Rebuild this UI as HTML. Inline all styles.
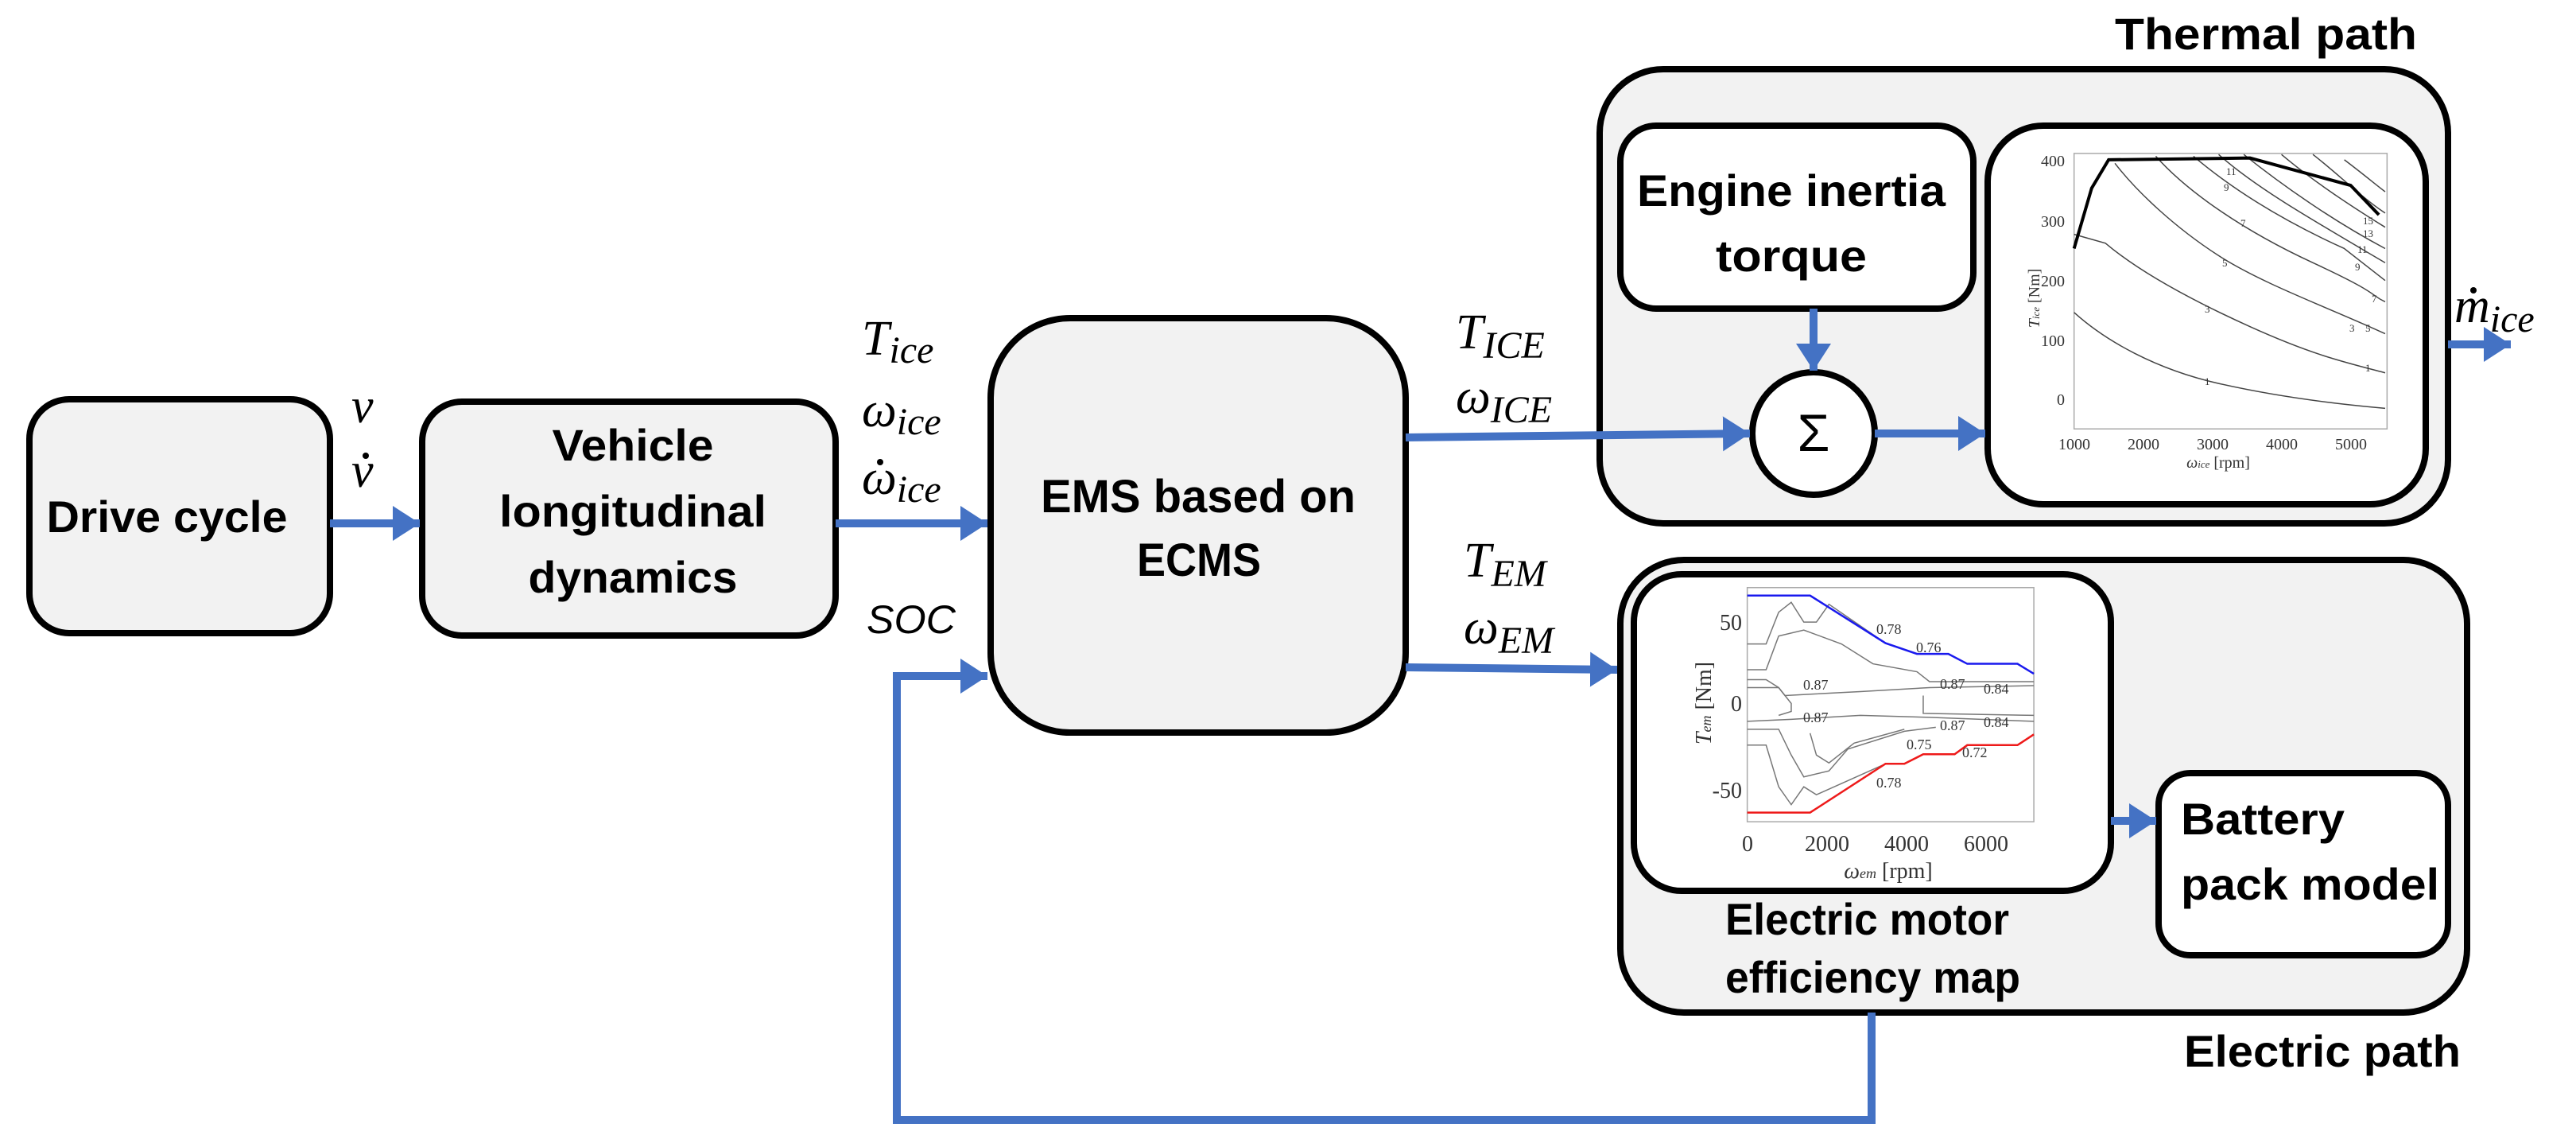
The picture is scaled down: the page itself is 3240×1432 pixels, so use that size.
<!DOCTYPE html>
<html><head><meta charset="utf-8"><style>
html,body{margin:0;padding:0;background:#fff;}
svg{display:block;}
.b{font-family:"Liberation Sans",sans-serif;font-weight:bold;fill:#000;}
.m{font-family:"Liberation Serif",serif;font-style:italic;fill:#000;}
.t{font-family:"Liberation Serif",serif;fill:#333;}
</style></head><body>
<svg width="3240" height="1432" viewBox="0 0 3240 1432" xmlns="http://www.w3.org/2000/svg">
<defs>
<marker id="ah" markerWidth="4" markerHeight="4.4" refX="3.4" refY="2.2" orient="auto" markerUnits="strokeWidth">
<path d="M0,0 L3.4,2.2 L0,4.4 Z" fill="#4472c4"/></marker>
</defs>
<rect x="37" y="502" width="378" height="294" rx="50" fill="#f2f2f2" stroke="#000" stroke-width="8"/>
<rect x="531" y="505" width="520" height="294" rx="50" fill="#f2f2f2" stroke="#000" stroke-width="8"/>
<rect x="1246" y="400" width="522" height="521" rx="100" fill="#f2f2f2" stroke="#000" stroke-width="8"/>
<rect x="2012" y="87" width="1067" height="571" rx="80" fill="#f2f2f2" stroke="#000" stroke-width="8"/>
<rect x="2038" y="158" width="444" height="230" rx="45" fill="#fff" stroke="#000" stroke-width="8"/>
<rect x="2500" y="158" width="551" height="476" rx="70" fill="#fff" stroke="#000" stroke-width="8"/>
<circle cx="2281" cy="545" r="77" fill="#fff" stroke="#000" stroke-width="8"/>
<rect x="2038" y="704" width="1065" height="569" rx="80" fill="#f2f2f2" stroke="#000" stroke-width="8"/>
<rect x="2055" y="722" width="600" height="398" rx="60" fill="#fff" stroke="#000" stroke-width="8"/>
<rect x="2715" y="972" width="364" height="229" rx="40" fill="#fff" stroke="#000" stroke-width="8"/>

<g stroke="#4472c4" stroke-width="10" fill="none">
<line x1="415" y1="658" x2="528" y2="658" marker-end="url(#ah)"/>
<line x1="1051" y1="658" x2="1242" y2="658" marker-end="url(#ah)"/>
<polyline points="2354,1273 2354,1408 1128,1408 1128,850 1242,850" marker-end="url(#ah)"/>
<line x1="1768" y1="550" x2="2201" y2="545" marker-end="url(#ah)"/>
<line x1="1768" y1="839" x2="2034" y2="842" marker-end="url(#ah)"/>
<line x1="2281" y1="388" x2="2281" y2="466" marker-end="url(#ah)"/>
<line x1="2358" y1="545" x2="2497" y2="545" marker-end="url(#ah)"/>
<line x1="3079" y1="433" x2="3158" y2="433" marker-end="url(#ah)"/>
<line x1="2655" y1="1032" x2="2712" y2="1032" marker-end="url(#ah)"/>
</g>

<g transform="translate(2000,0) scale(0.7905,0.4464)" fill="none">
<rect x="770" y="432" width="498" height="776" stroke="#aaa" stroke-width="1.5" vector-effect="non-scaling-stroke"/>
<g stroke="#444" stroke-width="1.5">
<path vector-effect="non-scaling-stroke" d="M770,880 C820,960 900,1040 1000,1080 S1200,1140 1265,1150"/>
<path vector-effect="non-scaling-stroke" d="M770,660 L820,685 C870,760 950,840 1050,920 S1200,1020 1265,1050"/>
<path vector-effect="non-scaling-stroke" d="M835,460 C870,540 930,640 1000,720 S1180,870 1265,940"/>
<path vector-effect="non-scaling-stroke" d="M900,440 C950,540 1040,650 1150,740 S1240,830 1265,850"/>
<path vector-effect="non-scaling-stroke" d="M960,440 C1020,530 1100,620 1200,700 L1265,790"/>
<path vector-effect="non-scaling-stroke" d="M1000,435 C1060,530 1150,620 1265,740"/>
<path vector-effect="non-scaling-stroke" d="M1040,435 C1100,520 1180,620 1265,700"/>
<path vector-effect="non-scaling-stroke" d="M1100,435 C1150,510 1210,580 1265,640"/>
<path vector-effect="non-scaling-stroke" d="M1150,435 C1190,490 1230,560 1265,600"/>
<path vector-effect="non-scaling-stroke" d="M1200,450 C1230,490 1250,520 1265,540"/>
</g>
<polyline points="770,700 798,530 825,450 1050,445 1210,522 1255,605" stroke="#000" stroke-width="4" vector-effect="non-scaling-stroke"/>
</g>
<g class="t" font-size="13" fill="#333">
<text x="2773" y="484">1</text><text x="2773" y="393">3</text><text x="2795" y="335">5</text>
<text x="2818" y="285">7</text><text x="2797" y="240">9</text><text x="2800" y="220">11</text>
<text x="2975" y="467">1</text><text x="2955" y="417">3</text><text x="2975" y="417">5</text>
<text x="2983" y="380">7</text><text x="2962" y="340">9</text><text x="2965" y="318">11</text>
<text x="2972" y="298">13</text><text x="2972" y="282">15</text>
</g>
<g class="t" font-size="20">
<text x="2597" y="209" text-anchor="end">400</text>
<text x="2597" y="285" text-anchor="end">300</text>
<text x="2597" y="360" text-anchor="end">200</text>
<text x="2597" y="435" text-anchor="end">100</text>
<text x="2597" y="509" text-anchor="end">0</text>
<text x="2609" y="565" text-anchor="middle">1000</text>
<text x="2696" y="565" text-anchor="middle">2000</text>
<text x="2783" y="565" text-anchor="middle">3000</text>
<text x="2870" y="565" text-anchor="middle">4000</text>
<text x="2957" y="565" text-anchor="middle">5000</text>
<text x="2790" y="588" text-anchor="middle"><tspan font-style="italic">ω<tspan font-size="13">ice</tspan></tspan> [rpm]</text>
<text transform="translate(2565,375) rotate(-90)" text-anchor="middle"><tspan font-style="italic">T<tspan font-size="13">ice</tspan></tspan> [Nm]</text>
</g>

<g transform="translate(2000,650) scale(0.7905,0.4988)" fill="none">
<rect x="250" y="178" width="456" height="590" stroke="#aaa" stroke-width="1.5" vector-effect="non-scaling-stroke"/>
<g stroke="#777" stroke-width="1.5">
<path vector-effect="non-scaling-stroke" d="M250,320 L280,320 L300,240 L320,215 L340,265 L360,265 L380,220 L470,318"/>
<path vector-effect="non-scaling-stroke" d="M250,385 L280,385 L300,300 L340,285 L400,320 L450,370 L520,390 L540,415 L706,415"/>
<path vector-effect="non-scaling-stroke" d="M250,430 L300,430 L310,450 L430,440 L540,430 L706,425"/>
<path vector-effect="non-scaling-stroke" d="M250,410 L280,410 L300,430 L320,470 L320,490 L300,500"/>
<path vector-effect="non-scaling-stroke" d="M530,450 L530,495 L706,500"/>
<path vector-effect="non-scaling-stroke" d="M250,515 L320,510 L430,500 L540,505 L706,515"/>
<path vector-effect="non-scaling-stroke" d="M250,535 L300,535 L320,600 L340,655 L380,640 L410,585 L500,540 L550,530"/>
<path vector-effect="non-scaling-stroke" d="M250,575 L280,575 L300,680 L320,725 L340,680 L360,700 L470,622"/>
<path vector-effect="non-scaling-stroke" d="M350,545 L360,600 L380,620 L420,570 L500,535"/>
</g>
<polyline vector-effect="non-scaling-stroke" points="250,198 350,198 470,318 520,345 570,345 600,370 680,370 706,395" stroke="#1a1aee" stroke-width="2.5"/>
<polyline vector-effect="non-scaling-stroke" points="250,745 350,745 470,622 500,622 530,598 580,598 600,575 680,575 706,548" stroke="#ee1a1a" stroke-width="2.5"/>
</g>
<g class="t" font-size="28">
<text x="2191" y="792" text-anchor="end">50</text>
<text x="2191" y="894" text-anchor="end">0</text>
<text x="2191" y="1003" text-anchor="end">-50</text>
<text x="2198" y="1070" text-anchor="middle">0</text>
<text x="2298" y="1070" text-anchor="middle">2000</text>
<text x="2398" y="1070" text-anchor="middle">4000</text>
<text x="2498" y="1070" text-anchor="middle">6000</text>
<text x="2375" y="1104" text-anchor="middle"><tspan font-style="italic">ω<tspan font-size="18">em</tspan></tspan> [rpm]</text>
<text transform="translate(2152,884) rotate(-90)" text-anchor="middle"><tspan font-style="italic">T<tspan font-size="18">em</tspan></tspan> [Nm]</text>
</g>
<g class="t" font-size="18">
<text x="2268" y="867">0.87</text><text x="2268" y="908">0.87</text>
<text x="2440" y="866">0.87</text><text x="2440" y="918">0.87</text>
<text x="2360" y="797">0.78</text><text x="2410" y="820">0.76</text>
<text x="2495" y="872">0.84</text><text x="2495" y="914">0.84</text>
<text x="2398" y="942">0.75</text><text x="2468" y="952">0.72</text>
<text x="2360" y="990">0.78</text>
</g>

<g class="b">
<text x="210" y="669" font-size="56" text-anchor="middle" textLength="303" lengthAdjust="spacingAndGlyphs">Drive cycle</text>
<text x="796" y="579" font-size="56" text-anchor="middle" textLength="203" lengthAdjust="spacingAndGlyphs">Vehicle</text>
<text x="796" y="662" font-size="56" text-anchor="middle" textLength="336" lengthAdjust="spacingAndGlyphs">longitudinal</text>
<text x="796" y="745" font-size="56" text-anchor="middle" textLength="263" lengthAdjust="spacingAndGlyphs">dynamics</text>
<text x="1507" y="644" font-size="58" text-anchor="middle" textLength="396" lengthAdjust="spacingAndGlyphs">EMS based on</text>
<text x="1508" y="724" font-size="58" text-anchor="middle" textLength="156" lengthAdjust="spacingAndGlyphs">ECMS</text>
<text x="2253" y="259" font-size="56" text-anchor="middle" textLength="388" lengthAdjust="spacingAndGlyphs">Engine inertia</text>
<text x="2253" y="341" font-size="56" text-anchor="middle" textLength="190" lengthAdjust="spacingAndGlyphs">torque</text>
<text x="2660" y="62" font-size="56" textLength="380" lengthAdjust="spacingAndGlyphs">Thermal path</text>
<text x="2170" y="1175" font-size="56" textLength="357" lengthAdjust="spacingAndGlyphs">Electric motor</text>
<text x="2170" y="1248" font-size="56" textLength="371" lengthAdjust="spacingAndGlyphs">efficiency map</text>
<text x="2743" y="1049" font-size="56" textLength="206" lengthAdjust="spacingAndGlyphs">Battery</text>
<text x="2743" y="1131" font-size="56" textLength="325" lengthAdjust="spacingAndGlyphs">pack model</text>
<text x="2747" y="1341" font-size="56" textLength="348" lengthAdjust="spacingAndGlyphs">Electric path</text>
</g>
<text x="2281" y="567" font-family="Liberation Sans,sans-serif" font-size="66" text-anchor="middle">Σ</text>

<g class="m" font-size="62">
<text x="442" y="531">v</text>
<text x="442" y="612">v</text>
<text x="1084" y="446">T<tspan font-size="48" dy="10">ice</tspan></text>
<text x="1084" y="536">ω<tspan font-size="48" dy="10">ice</tspan></text>
<text x="1084" y="621">ω<tspan font-size="48" dy="10">ice</tspan></text>
<text x="1831" y="438">T<tspan font-size="48" dy="12">ICE</tspan></text>
<text x="1831" y="519">ω<tspan font-size="48" dy="12">ICE</tspan></text>
<text x="1841" y="725">T<tspan font-size="48" dy="12">EM</tspan></text>
<text x="1841" y="809">ω<tspan font-size="48" dy="12">EM</tspan></text>
<text x="3087" y="405">m<tspan font-size="48" dy="12">ice</tspan></text>
</g>
<g fill="#000">
<circle cx="460" cy="573" r="4"/>
<circle cx="1107" cy="581" r="4"/>
<circle cx="3111" cy="365" r="4"/>
</g>
<text x="1090" y="796" font-family="Liberation Sans,sans-serif" font-style="italic" font-size="50" textLength="112" lengthAdjust="spacingAndGlyphs">SOC</text>
</svg>
</body></html>
